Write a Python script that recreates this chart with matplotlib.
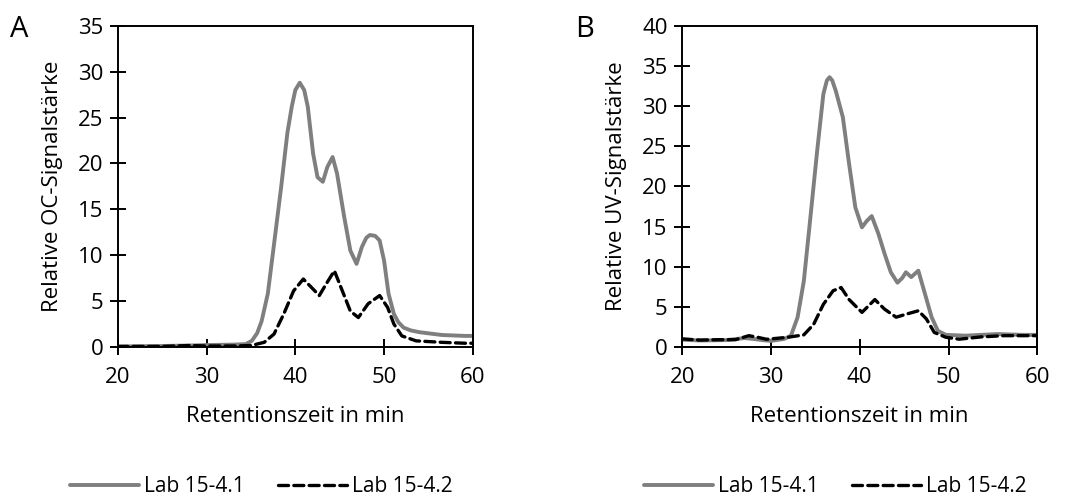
import matplotlib
matplotlib.use("Agg")
import matplotlib.pyplot as plt

plt.rcParams['font.family'] = ['Open Sans', 'DejaVu Sans']

# Panel A: organic carbon detector
oc_time_1 = [20, 25, 28, 30, 33, 34.4, 35.1, 35.7, 36.2, 36.9, 37.6, 38.4, 39.1, 39.6,
             40.0, 40.5, 41.0, 41.4, 42.0, 42.5, 43.1, 43.6, 44.2, 44.7, 45.5, 46.2,
             46.9, 47.5, 48.0, 48.4, 49.0, 49.5, 50.0, 50.5, 51.1, 51.6, 52.2, 53.0,
             54.0, 56.5, 59.1, 60]
oc_lab_1 = [0.05, 0.1, 0.15, 0.2, 0.25, 0.3, 0.66, 1.5, 2.8, 5.8, 11.2, 17.4, 23.3, 26.2,
            28.0, 28.8, 28.0, 26.2, 21.1, 18.5, 18.0, 19.6, 20.7, 18.9, 14.2, 10.5,
            9.05, 10.9, 11.9, 12.2, 12.1, 11.6, 9.4, 5.8, 3.6, 2.7, 2.1, 1.8,
            1.6, 1.3, 1.2, 1.2]

oc_time_2 = [20, 25, 28, 30, 33, 35, 36.5, 37.6, 38.7, 39.8, 40.9, 41.8, 42.7, 43.5,
             44.4, 45.3, 46.2, 47.1, 48.2, 49.5, 50.4, 51.1, 52.0, 53.6, 56.5, 59.1, 60]
oc_lab_2 = [0.05, 0.05, 0.15, 0.1, 0.1, 0.15, 0.5, 1.4, 3.6, 6.1, 7.4, 6.5, 5.6, 6.9,
            8.3, 6.1, 3.9, 3.2, 4.7, 5.6, 4.3, 2.5, 1.2, 0.66, 0.5, 0.4, 0.4]

# Panel B: UV detector
uv_time_1 = [20, 22, 25, 27, 28, 29, 30, 31.5, 32.25, 33.0, 33.7, 34.4, 35.2, 35.9,
             36.3, 36.6, 36.9, 37.3, 38.1, 38.8, 39.5, 40.25, 40.8, 41.35, 42.1, 42.8,
             43.5, 44.25, 44.8, 45.2, 45.8, 46.6, 47.35, 48.1, 48.8, 49.7, 51.9, 55.5,
             58.4, 60]
uv_lab_1 = [0.9, 0.8, 0.85, 1.1, 1.0, 0.85, 0.75, 1.0, 1.4, 3.7, 8.2, 15.7, 24.4, 31.5,
            33.2, 33.6, 33.2, 31.9, 28.6, 22.8, 17.4, 14.9, 15.7, 16.3, 14.1, 11.6,
            9.3, 8.0, 8.6, 9.3, 8.7, 9.5, 6.6, 3.7, 2.0, 1.5, 1.4, 1.6,
            1.5, 1.5]

uv_time_2 = [20, 22, 24, 26, 27.5, 28.5, 29.5, 31.9, 33.7, 34.8, 35.9, 37.0, 37.9, 38.8,
             40.25, 41.7, 42.8, 44.1, 45.3, 46.6, 47.5, 48.4, 49.7, 51.2, 53.7, 56.3,
             58.4, 60]
uv_lab_2 = [1.0, 0.85, 0.9, 0.9, 1.4, 1.2, 0.95, 1.2, 1.5, 2.8, 5.3, 7.0, 7.4, 5.9,
            4.3, 5.9, 4.7, 3.7, 4.1, 4.5, 3.5, 1.8, 1.2, 0.96, 1.25, 1.4, 1.4, 1.4]

series_names = ["Lab 15-4.1", "Lab 15-4.2"]
x_ticks = [20, 30, 40, 50, 60]
oc_yticks = [0, 5, 10, 15, 20, 25, 30, 35]
uv_yticks = [0, 5, 10, 15, 20, 25, 30, 35, 40]

GRAY = "#7f7f7f"
FS = 16

fig = plt.figure(figsize=(10.71, 4.97), dpi=100)
ax_a = fig.add_axes([0.110, 0.302, 0.3315, 0.646])
ax_b = fig.add_axes([0.637, 0.302, 0.3315, 0.646])


def style_panel(ax, t1, v1, t2, v2, yticks, ylabel, letter, legend_x):
    ax.plot(t1, v1, color=GRAY, lw=2.8, solid_capstyle='round',
            solid_joinstyle='round', label=series_names[0])
    ax.plot(t2, v2, color="black", lw=2.4, dashes=(3.0, 1.6),
            dash_capstyle='round', label=series_names[1])
    ax.set_xlim(x_ticks[0], x_ticks[-1])
    ax.set_ylim(yticks[0], yticks[-1])
    ax.set_xticks(x_ticks)
    ax.set_yticks(yticks)
    for sp in ax.spines.values():
        sp.set_color("black")
        sp.set_linewidth(1.4)
    ax.tick_params(direction='inout', length=11, width=1.4, colors='black',
                   labelsize=FS)
    ax.tick_params(axis='x', pad=9)
    ax.tick_params(axis='y', pad=5)
    ax.set_xlabel("Retentionszeit in min", fontsize=FS)
    ax.set_ylabel(ylabel, fontsize=FS)
    ax.xaxis.set_label_coords(0.5, -0.185)
    ax.yaxis.set_label_coords(-0.155, 0.5)
    ax.text(-0.303, 0.966, letter, transform=ax.transAxes, fontsize=21,
            ha='left', va='baseline')
    ax.legend(loc='center', bbox_to_anchor=(legend_x, -0.436), ncol=2, frameon=False,
              fontsize=15, handlelength=3.3, handletextpad=0.25, columnspacing=1.6,
              borderaxespad=0, borderpad=0)


style_panel(ax_a, oc_time_1, oc_lab_1, oc_time_2, oc_lab_2, oc_yticks,
            "Relative OC-Signalstärke", "A", 0.404)
style_panel(ax_b, uv_time_1, uv_lab_1, uv_time_2, uv_lab_2, uv_yticks,
            "Relative UV-Signalstärke", "B", 0.432)

fig.savefig("out.png", dpi=100)
